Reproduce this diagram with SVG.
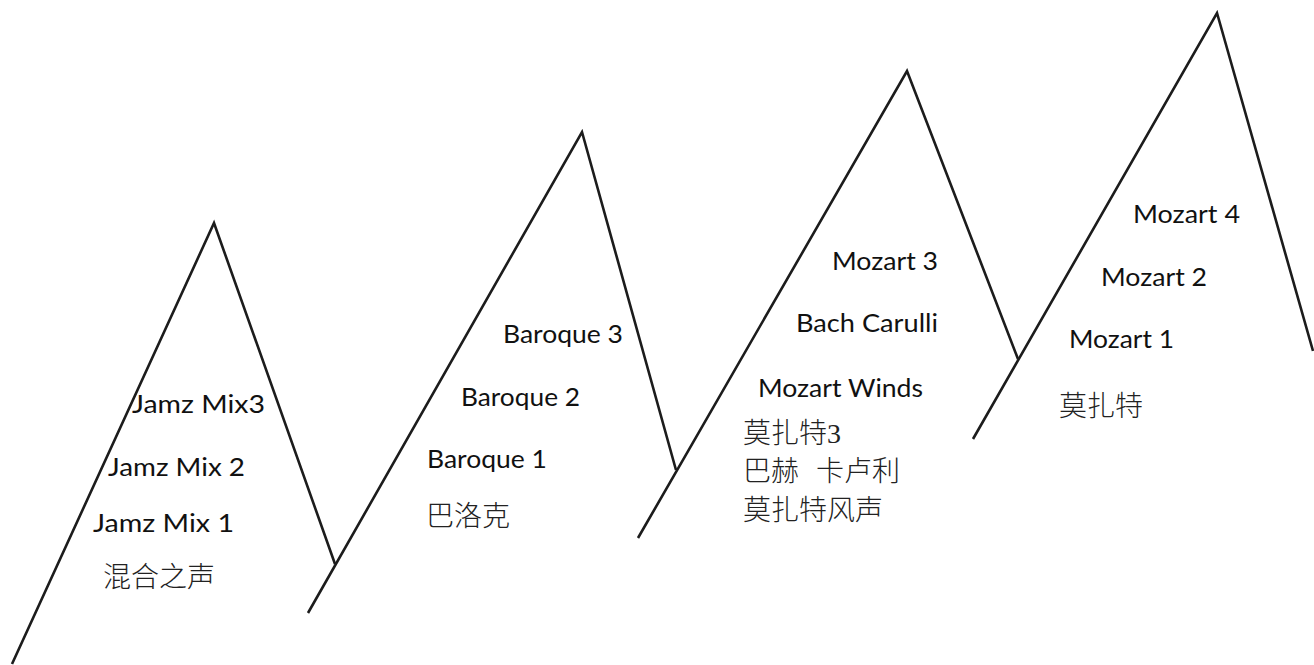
<svg xmlns="http://www.w3.org/2000/svg" width="1314" height="665" viewBox="0 0 1314 665">
  <style>
    .ridge { fill: none; stroke: #1c1c1c; stroke-width: 2.6; stroke-linejoin: miter; stroke-linecap: butt; }
    .lbl { font-family: Lato, "Open Sans", "Liberation Sans", sans-serif; font-size: 25px; fill: #111; }
    .cjk { font-family: "Liberation Serif", "Noto Sans CJK SC", serif; font-size: 28px; fill: #222; font-weight: 300; }
  </style>
  <rect width="1314" height="665" fill="#ffffff"/>

  <!-- ridge outlines, one stroke per peak -->
  <g id="ridges">
    <polyline class="ridge" points="12,664 214,223 335,564"/>
    <polyline class="ridge" points="308,613 582,132 676,470"/>
    <polyline class="ridge" points="638,538 907,71 1018,359"/>
    <polyline class="ridge" points="973,439 1217,13 1313,351"/>
  </g>

  <!-- peak 1: mixes -->
  <g id="peak-jamz">
    <text class="lbl" x="132" y="413" textLength="133" lengthAdjust="spacingAndGlyphs">Jamz Mix3</text>
    <text class="lbl" x="108" y="476" textLength="137" lengthAdjust="spacingAndGlyphs">Jamz Mix 2</text>
    <text class="lbl" x="93" y="532" textLength="141" lengthAdjust="spacingAndGlyphs">Jamz Mix 1</text>
    <text class="cjk" x="103" y="587">混合之声</text>
  </g>

  <!-- peak 2: baroque -->
  <g id="peak-baroque">
    <text class="lbl" x="503" y="343" textLength="120" lengthAdjust="spacingAndGlyphs">Baroque 3</text>
    <text class="lbl" x="461" y="406" textLength="119" lengthAdjust="spacingAndGlyphs">Baroque 2</text>
    <text class="lbl" x="427" y="468" textLength="120" lengthAdjust="spacingAndGlyphs">Baroque 1</text>
    <text class="cjk" x="426" y="526">巴洛克</text>
  </g>

  <!-- peak 3: mozart / bach -->
  <g id="peak-mozart-bach">
    <text class="lbl" x="832" y="270" textLength="106" lengthAdjust="spacingAndGlyphs">Mozart 3</text>
    <text class="lbl" x="796" y="332" textLength="142" lengthAdjust="spacingAndGlyphs">Bach Carulli</text>
    <text class="lbl" x="758" y="397" textLength="165" lengthAdjust="spacingAndGlyphs">Mozart Winds</text>
    <text class="cjk" x="743" y="443">莫扎特3</text>
    <text class="cjk" y="481"><tspan x="743">巴赫</tspan><tspan x="816">卡卢利</tspan></text>
    <text class="cjk" x="743" y="520">莫扎特风声</text>
  </g>

  <!-- peak 4: mozart -->
  <g id="peak-mozart">
    <text class="lbl" x="1133" y="223" textLength="107" lengthAdjust="spacingAndGlyphs">Mozart 4</text>
    <text class="lbl" x="1101" y="286" textLength="106" lengthAdjust="spacingAndGlyphs">Mozart 2</text>
    <text class="lbl" x="1069" y="348" textLength="105" lengthAdjust="spacingAndGlyphs">Mozart 1</text>
    <text class="cjk" x="1059" y="416">莫扎特</text>
  </g>
</svg>
